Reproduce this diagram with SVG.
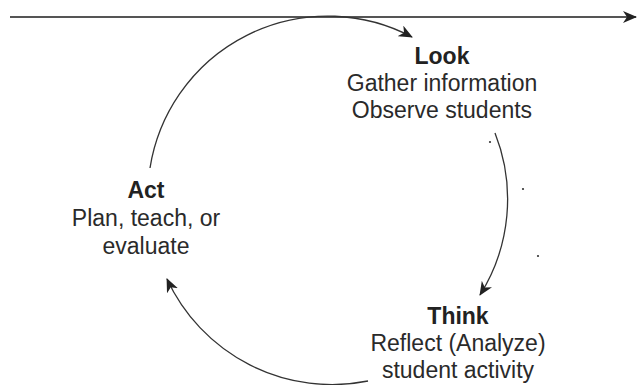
<svg xmlns="http://www.w3.org/2000/svg" width="638" height="385" viewBox="0 0 638 385">
<style>
.t{font-family:"Liberation Sans",Arial,sans-serif;font-size:23px;fill:#2a2a2a;text-anchor:middle}
.b{font-weight:bold;fill:#222}
.c{fill:none;stroke:#333;stroke-width:1.3}
</style>
<defs>
<marker id="ah" markerWidth="14" markerHeight="12" refX="13" refY="6" orient="auto" markerUnits="userSpaceOnUse">
<path d="M0,0 L14,6 L0,12 L4,6 Z" fill="#222"/>
</marker>
</defs>
<rect width="638" height="385" fill="#fff"/>
<g id="connectors">
<line x1="10" y1="17" x2="636" y2="17" stroke="#555" stroke-width="2" marker-end="url(#ah)"/>
<path class="c" d="M150,168 A180,180 0 0,1 412,37" marker-end="url(#ah)"/>
<path class="c" d="M495,133 A180,180 0 0,1 480,295" marker-end="url(#ah)"/>
<path class="c" d="M368,381 A182,182 0 0,1 167,279" marker-end="url(#ah)"/>
</g>
<g id="dots" fill="#333">
<circle cx="490" cy="142" r="1.1"/>
<circle cx="523" cy="189" r="1.1"/>
<circle cx="538" cy="256" r="1.1"/>
</g>
<g id="look">
<text class="t b" x="442" y="64">Look</text>
<text class="t" x="442" y="91">Gather information</text>
<text class="t" x="442" y="118">Observe students</text>
</g>
<g id="think">
<text class="t b" x="458" y="324">Think</text>
<text class="t" x="458" y="351">Reflect (Analyze)</text>
<text class="t" x="458" y="378">student activity</text>
</g>
<g id="act">
<text class="t b" x="146" y="198">Act</text>
<text class="t" x="146" y="226">Plan, teach, or</text>
<text class="t" x="146" y="254">evaluate</text>
</g>
</svg>
